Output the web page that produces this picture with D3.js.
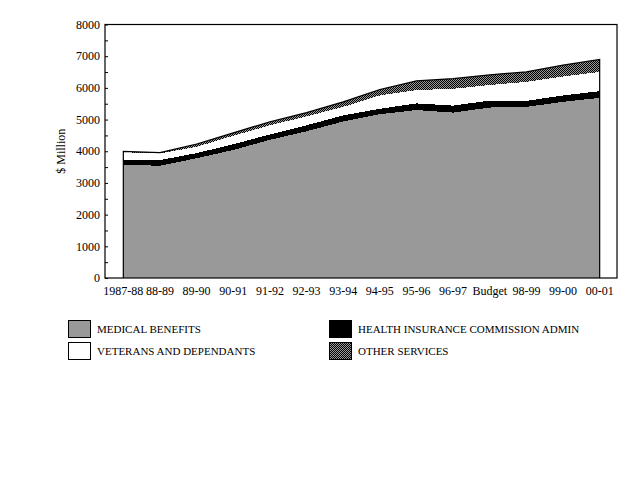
<!DOCTYPE html>
<html lang="en">

<head>
    <meta charset="UTF-8">
    <title>Health outlays</title>
    <script src="https://d3js.org/d3.v7.min.js"></script>
    <style>
        body {
            margin: 0;
            background: #fff;
        }

        svg text {
            font-family: "Liberation Serif", "Times New Roman", serif;
            fill: #000;
        }
    </style>
</head>

<body>
    <svg id="chart" width="640" height="480"></svg>

    <script>
        // categories and series ($ million)
        const years = ["1987-88", "88-89", "89-90", "90-91", "91-92", "92-93", "93-94",
            "94-95", "95-96", "96-97", "Budget", "98-99", "99-00", "00-01"];
        const medicalBenefits = [3580, 3540, 3780, 4040, 4360, 4630, 4940, 5170, 5300, 5220, 5380, 5400, 5560, 5685];
        const hicAdmin = [160, 180, 160, 180, 170, 190, 190, 170, 210, 220, 220, 190, 200, 210];
        const veterans = [230, 210, 200, 270, 290, 280, 270, 420, 420, 530, 490, 600, 600, 610];
        const otherServices = [25, 25, 90, 90, 110, 120, 160, 190, 290, 320, 320, 317, 358, 391];
        const yTicks = [0, 1000, 2000, 3000, 4000, 5000, 6000, 7000, 8000];

        const keys = ["medical", "hic", "veterans", "other"];
        const names = {
            medical: "MEDICAL BENEFITS",
            hic: "HEALTH INSURANCE COMMISSION ADMIN",
            veterans: "VETERANS AND DEPENDANTS",
            other: "OTHER SERVICES"
        };
        const fills = {
            medical: "#999999",
            hic: "#000000",
            veterans: "#ffffff",
            other: "url(#checker)"
        };

        const table = years.map((yr, i) => ({
            year: yr,
            medical: medicalBenefits[i],
            hic: hicAdmin[i],
            veterans: veterans[i],
            other: otherServices[i]
        }));

        const svg = d3.select("#chart");
        svg.append("rect").attr("width", 640).attr("height", 480).attr("fill", "#fff");

        // checkerboard fill for "other services"
        const pat = svg.append("defs").append("pattern")
            .attr("id", "checker")
            .attr("patternUnits", "userSpaceOnUse")
            .attr("width", 2).attr("height", 2);
        pat.append("rect").attr("width", 2).attr("height", 2).attr("fill", "#999999");
        pat.append("rect").attr("width", 1).attr("height", 1).attr("fill", "#000");
        pat.append("rect").attr("x", 1).attr("y", 1).attr("width", 1).attr("height", 1).attr("fill", "#000");

        const plotLeft = 105, plotRight = 617, plotTop = 24.5, plotBottom = 278;

        const x = d3.scalePoint()
            .domain(years)
            .range([plotLeft, plotRight + 1])
            .padding(0.5);

        const y = d3.scaleLinear()
            .domain([0, 8000])
            .range([plotBottom, plotTop]);

        const series = d3.stack().keys(keys)(table);

        const area = d3.area()
            .x(d => x(d.data.year))
            .y0(d => y(d[0]))
            .y1(d => y(d[1]));

        svg.append("g")
            .selectAll("path")
            .data(series)
            .enter().append("path")
            .attr("d", area)
            .attr("fill", d => fills[d.key])
            .attr("shape-rendering", "crispEdges");

        // outline round the whole stack
        const outline = d3.line()
            .x(d => x(d.data.year))
            .y(d => y(d[1]));
        const topSeries = series[series.length - 1];
        const first = topSeries[0], last = topSeries[topSeries.length - 1];
        svg.append("path")
            .attr("d", "M" + x(first.data.year) + "," + y(0) +
                outline(topSeries).replace(/^M/, "L") +
                "L" + x(last.data.year) + "," + y(0))
            .attr("fill", "none")
            .attr("stroke", "#000")
            .attr("stroke-width", 1.2);

        // plot frame
        svg.append("rect")
            .attr("x", plotLeft).attr("y", plotTop)
            .attr("width", plotRight - plotLeft).attr("height", plotBottom - plotTop)
            .attr("fill", "none")
            .attr("stroke", "#000")
            .attr("stroke-width", 1.2);

        // y axis, ticks pointing inwards every 500
        const yAxis = svg.append("g")
            .attr("transform", "translate(" + plotLeft + ",0)")
            .call(d3.axisLeft(y).tickValues(d3.range(0, 8001, 500)).tickSize(-3).tickFormat(""));
        yAxis.select(".domain").remove();
        yAxis.selectAll("line").attr("stroke", "#000");

        svg.append("g")
            .selectAll("text")
            .data(yTicks)
            .enter().append("text")
            .attr("x", plotLeft - 5)
            .attr("y", d => y(d))
            .attr("dy", "0.35em")
            .attr("text-anchor", "end")
            .style("font-size", "12px")
            .text(d => d);

        // x labels
        svg.append("g")
            .selectAll("text")
            .data(years)
            .enter().append("text")
            .attr("x", d => x(d))
            .attr("y", 295)
            .attr("text-anchor", "middle")
            .style("font-size", "12px")
            .text(d => d);

        svg.append("text")
            .attr("transform", "translate(65," + ((plotTop + plotBottom) / 2) + ") rotate(-90)")
            .attr("text-anchor", "middle")
            .style("font-size", "12px")
            .text("$ Million");

        // legend
        const legendPos = [
            { key: "medical", x: 68, y: 320 },
            { key: "hic", x: 329, y: 320 },
            { key: "veterans", x: 68, y: 342 },
            { key: "other", x: 329, y: 342 }
        ];
        const legend = svg.selectAll(".legend")
            .data(legendPos)
            .enter().append("g")
            .attr("class", "legend")
            .attr("transform", d => "translate(" + d.x + "," + d.y + ")");

        legend.append("rect")
            .attr("x", 0.5).attr("y", 0.5)
            .attr("width", 22).attr("height", 17)
            .attr("fill", d => fills[d.key])
            .attr("stroke", "#000");

        legend.append("text")
            .attr("x", 29)
            .attr("y", 13)
            .style("font-size", "11px")
            .text(d => names[d.key]);
    </script>
</body>

</html>
